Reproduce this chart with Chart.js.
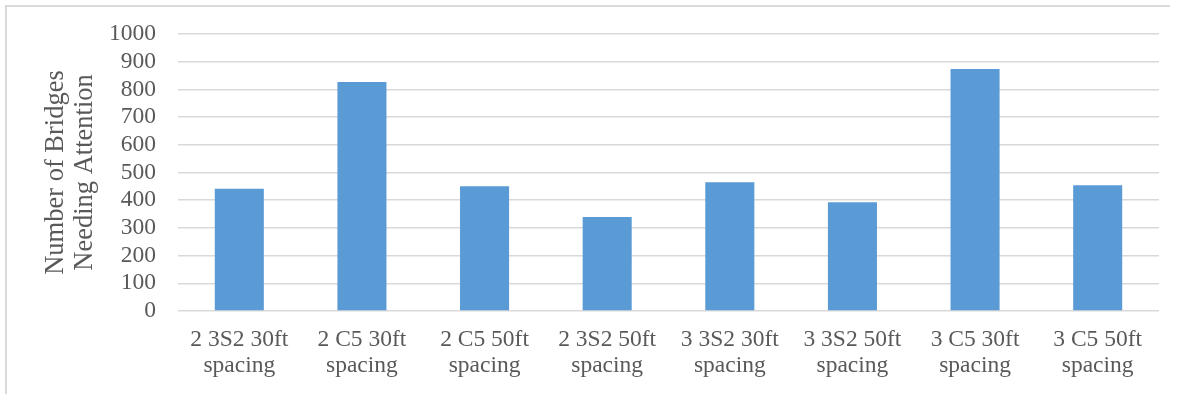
<!DOCTYPE html>
<html>
<head>
<meta charset="utf-8">
<script src="https://cdn.jsdelivr.net/npm/chart.js@4"></script>
<style>
  html, body { margin: 0; padding: 0; background: #ffffff; }
  #wrap { position: relative; width: 1177px; height: 394px; overflow: hidden; }
  #frame { position: absolute; left: 5px; top: 5px; width: 1163px; height: 400px;
           border-left: 2px solid #d9d9d9; border-top: 2px solid #d9d9d9; pointer-events: none; }
</style>
</head>
<body>
<div id="wrap">
  <canvas id="c"></canvas>
  <div id="frame"></div>
</div>
<script>
const categories = [
  ['2 3S2 30ft', 'spacing'],
  ['2 C5 30ft', 'spacing'],
  ['2 C5 50ft', 'spacing'],
  ['2 3S2 50ft', 'spacing'],
  ['3 3S2 30ft', 'spacing'],
  ['3 3S2 50ft', 'spacing'],
  ['3 C5 30ft', 'spacing'],
  ['3 C5 50ft', 'spacing']
];
const bridgesNeedingAttention = [441, 827, 450, 339, 465, 393, 874, 454];
const yAxisTitle = ['Number of Bridges', 'Needing Attention'];
const yMin = 0, yMax = 1000, yStep = 100;

const textColor = '#595959';
const fontFamily = '"Liberation Serif", "Times New Roman", serif';

new Chart(document.getElementById('c'), {
  type: 'bar',
  data: {
    labels: categories,
    datasets: [{
      data: bridgesNeedingAttention,
      backgroundColor: '#5b9bd5',
      borderWidth: 0,
      categoryPercentage: 1.0,
      barPercentage: 0.4
    }]
  },
  options: {
    responsive: true,
    maintainAspectRatio: false,
    animation: false,
    events: [],
    layout: { padding: { left: 30, right: 18, top: 34, bottom: 0 } },
    plugins: { legend: { display: false }, tooltip: { enabled: false }, title: { display: false } },
    scales: {
      x: {
        grid: { display: false, drawTicks: false },
        border: { display: false },
        ticks: {
          color: textColor,
          font: { family: fontFamily, size: 23.5, lineHeight: 1.1 },
          padding: 16,
          autoSkip: false,
          maxRotation: 0,
          minRotation: 0
        },
        afterFit: (s) => { s.height = 83; }
      },
      y: {
        min: yMin,
        max: yMax,
        grid: { color: '#d9d9d9', lineWidth: 1.5, drawTicks: false },
        border: { display: false },
        ticks: {
          stepSize: yStep,
          autoSkip: false,
          callback: (v) => String(v),
          color: textColor,
          font: { family: fontFamily, size: 23.5, lineHeight: 1.0 },
          padding: 22
        },
        title: {
          display: true,
          text: yAxisTitle,
          color: textColor,
          font: { family: fontFamily, size: 26.5, lineHeight: 1.1 },
          padding: { top: 11, bottom: 0 }
        },
        afterFit: (s) => { s.width = 148; }
      }
    }
  }
});
</script>
</body>
</html>
